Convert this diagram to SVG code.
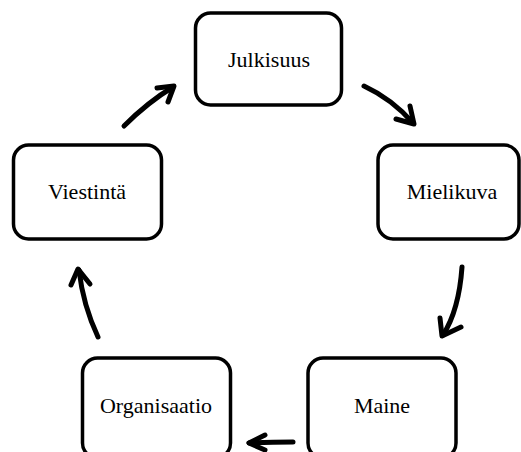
<svg xmlns="http://www.w3.org/2000/svg" width="521" height="452" viewBox="0 0 521 452">
  <style>
    .box { fill: #ffffff; stroke: #000000; stroke-width: 3.5; }
    .label { font-family: "Liberation Serif", "Times New Roman", serif; font-size: 22px; fill: #000000; text-anchor: middle; }
    .arrow { fill: none; stroke: #000000; stroke-width: 5; stroke-linecap: round; stroke-linejoin: round; }
  </style>
  <rect width="521" height="452" fill="#ffffff"/>

  <g id="julkisuus">
    <rect class="box" x="195.5" y="13" width="146" height="92" rx="15"/>
    <text class="label" x="269" y="67">Julkisuus</text>
  </g>
  <g id="mielikuva">
    <rect class="box" x="378" y="145" width="141" height="94" rx="15"/>
    <text class="label" x="452" y="199">Mielikuva</text>
  </g>
  <g id="maine">
    <rect class="box" x="308" y="358" width="148" height="100" rx="15"/>
    <text class="label" x="382" y="413">Maine</text>
  </g>
  <g id="organisaatio">
    <rect class="box" x="82.5" y="358" width="148" height="100" rx="15"/>
    <text class="label" x="156" y="413">Organisaatio</text>
  </g>
  <g id="viestinta">
    <rect class="box" x="13.5" y="145" width="148" height="94" rx="15"/>
    <text class="label" x="87" y="199">Viestintä</text>
  </g>

  <g id="connectors">
    <!-- Julkisuus to Mielikuva -->
    <path class="arrow" d="M364,86 Q392,99 413,123"/>
    <polyline class="arrow" points="396,119 414,124 410,106"/>
    <!-- Mielikuva to Maine -->
    <path class="arrow" d="M462,267 Q459,310 443,335"/>
    <polyline class="arrow" points="440,318 442,336 461,327"/>
    <!-- Maine to Organisaatio -->
    <path class="arrow" d="M293,442 Q270,442 249,443"/>
    <polyline class="arrow" points="265,435 249,443 265,450"/>
    <!-- Organisaatio to Viestintä -->
    <path class="arrow" d="M98,337 Q83,305 79,270"/>
    <polyline class="arrow" points="71,285 78,269 90,284"/>
    <!-- Viestintä to Julkisuus -->
    <path class="arrow" d="M124,126 Q148,102 173,87"/>
    <polyline class="arrow" points="157,88 174,86 168,102"/>
  </g>
</svg>
